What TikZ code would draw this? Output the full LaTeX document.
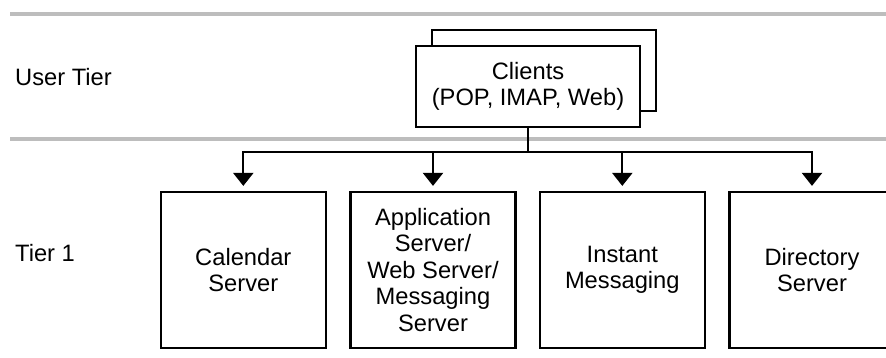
\documentclass[tikz,border=0pt]{standalone}
\usepackage{fontspec}
\setmainfont{Liberation Sans}
\usetikzlibrary{arrows.meta}
\begin{document}
\begin{tikzpicture}[x=1pt,y=-1pt,
  tierline/.style={line width=4.5pt,draw=black!26},
  box/.style={draw,line width=2.2pt,rectangle,align=center,inner sep=0pt,
    font=\fontsize{23.7}{26.5}\selectfont},
  srv/.style={box,minimum width=165pt,minimum height=156pt},
  lbl/.style={anchor=base west,inner sep=0pt,font=\fontsize{23.7}{26.5}\selectfont},
  conn/.style={line width=2.2pt},
  arr/.style={conn,-{Triangle[width=20pt,length=13pt]},shorten >=5pt}]
\useasboundingbox (0,0) rectangle (886,358);
\clip (0,0) rectangle (886,358);
\fill[white] (0,0) rectangle (886,358);
% tier separators
\coordinate (t1a) at (10,14);
\coordinate (t1b) at (886,14);
\coordinate (t2a) at (10,139);
\coordinate (t2b) at (886,139);
\draw[tierline] (t1a) -- (t1b);
\draw[tierline] (t2a) -- (t2b);
% labels
\node[lbl] (user) at (15,86) {User Tier};
\node[lbl] (tier1) at (15,261) {Tier 1};
% clients (stacked)
\node[box,minimum width=224pt,minimum height=81pt,fill=white] (clientsback) at (544,70.5) {};
\node[box,minimum width=224pt,minimum height=81pt,fill=white] (clients) at (528,86.5) {Clients\\(POP, IMAP, Web)};
% servers
\node[srv] (cal) at (243.3,270) {Calendar\\Server};
\node[srv] (app) at (433,270) {Application\\Server/\\Web Server/\\Messaging\\Server};
\node[srv] (im) at (622.3,270) {Instant\\Messaging};
\node[srv] (dir) at (812,270) {Directory\\Server};
% connectors
\coordinate (bus) at (528,152);
\draw[conn] (clients.south) -- (bus);
\draw[arr] (bus) -| (cal.north);
\draw[arr] (bus) -| (app.north);
\draw[arr] (bus) -| (im.north);
\draw[arr] (bus) -| (dir.north);
\end{tikzpicture}
\end{document}
